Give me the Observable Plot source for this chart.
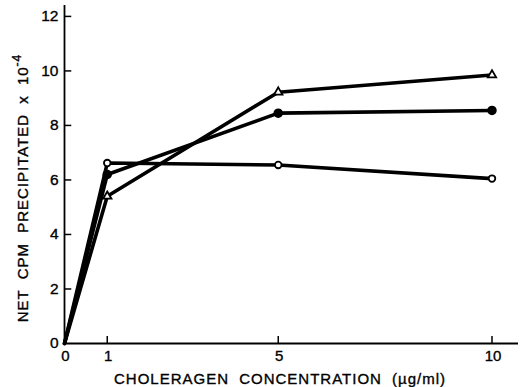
<!DOCTYPE html>
<html>
<head>
<meta charset="utf-8">
<script src="https://cdn.jsdelivr.net/npm/d3@7"></script>
<script src="https://cdn.jsdelivr.net/npm/@observablehq/plot@0.6"></script>
<style>
  html, body { margin: 0; padding: 0; background: #fff; }
  #chart svg { display: block; }
  #chart svg text { stroke: #000; stroke-width: 0.35px; }
</style>
</head>
<body>
<div id="chart"></div>
<script>
// Data
const concentration = [0, 1, 5, 10];          // µg/ml
const triangleSeries = [0, 5.4, 9.22, 9.85];  // open triangles
const filledSeries   = [0, 6.2, 8.45, 8.55];  // filled circles
const openSeries     = [0, 6.62, 6.55, 6.05]; // open circles
const xTicks = [0, 1, 5, 10];
const yTicks = [0, 2, 4, 6, 8, 10, 12];

const seriesDefs = [
  {key: "triangle", values: triangleSeries},
  {key: "filled", values: filledSeries},
  {key: "open", values: openSeries}
];
const table = seriesDefs.flatMap(s =>
  concentration.map((c, i) => ({series: s.key, x: c, y: s.values[i]}))
);
const markers = table.filter(d => d.x > 0);

const font = "'Liberation Sans', Arial, Helvetica, sans-serif";

const chart = Plot.plot({
  width: 525,
  height: 387,
  marginLeft: 64,
  marginRight: 7,
  marginTop: 5,
  marginBottom: 44,
  style: {fontFamily: font, fontSize: "15px", background: "#fff", color: "#000"},
  x: {domain: [0, 10.62], ticks: xTicks, label: null},
  y: {domain: [0, 12.4], ticks: yTicks, label: null},
  marks: [
    Plot.axisX(xTicks, {tickSize: 0, tickPadding: 7, fontSize: 15, label: null, dx: 1}),
    Plot.axisY(yTicks, {tickSize: 0, tickPadding: 6, fontSize: 15.5, label: null}),
    Plot.ruleX(xTicks.filter(d => d > 0), {y1: 0, y2: 0.26, stroke: "#000", strokeWidth: 1.5}),
    Plot.ruleY(yTicks.filter(d => d > 0), {x1: 0, x2: 0.17, stroke: "#000", strokeWidth: 1.5}),
    Plot.ruleX([0], {stroke: "#000", strokeWidth: 1.8}),
    Plot.ruleY([0], {stroke: "#000", strokeWidth: 1.8}),
    Plot.line(table, {x: "x", y: "y", z: "series", stroke: "#000", strokeWidth: 3.6, strokeLinejoin: "round"}),
    Plot.dot(markers.filter(d => d.series === "triangle"), {x: "x", y: "y", symbol: "triangle", r: 3.1, fill: "#fff", stroke: "#000", strokeWidth: 1.8}),
    Plot.dot(markers.filter(d => d.series === "filled"), {x: "x", y: "y", symbol: "circle", r: 4, fill: "#000", stroke: "#000"}),
    Plot.dot(markers.filter(d => d.series === "open"), {x: "x", y: "y", symbol: "circle", r: 3.3, fill: "#fff", stroke: "#000", strokeWidth: 1.8})
  ]
});

const svg = d3.select(chart);
// x axis title
svg.append("text")
  .attr("x", 280).attr("y", 384)
  .attr("text-anchor", "middle")
  .style("font-family", font).style("font-size", "15px")
  .style("letter-spacing", "1px").style("word-spacing", "5px")
  .attr("fill", "#000")
  .text("CHOLERAGEN CONCENTRATION (µg/ml)");
// y axis title with superscript
const yt = svg.append("text")
  .attr("transform", "translate(28,188) rotate(-90)")
  .attr("text-anchor", "middle")
  .style("font-family", font).style("font-size", "15px")
  .style("letter-spacing", "1px").style("word-spacing", "5px")
  .attr("fill", "#000");
yt.append("tspan").text("NET CPM PRECIPITATED x 10");
yt.append("tspan").attr("dy", -7).style("font-size", "12px").text("-4");

document.getElementById("chart").appendChild(chart);
</script>
</body>
</html>
